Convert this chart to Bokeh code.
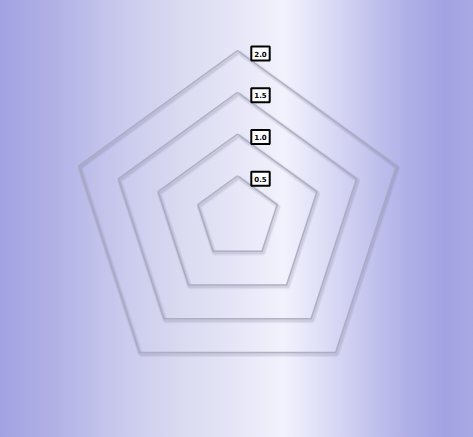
import numpy as np
from bokeh.plotting import figure
from bokeh.models import Range1d, ColumnDataSource
from bokeh.core.properties import value
from bokeh.embed import file_html
from bokeh.resources import INLINE

# data
levels = [0.5, 1.0, 1.5, 2.0]
level_labels = ["0.5", "1.0", "1.5", "2.0"]
n_axes = 5

W, H = 473, 437
px_per_unit = 83.5
cx_px, cy_px = 237.0, 217.0  # centre in figure pixels (from top-left)

p = figure(width=W, height=H, output_backend="svg", toolbar_location=None,
           x_range=Range1d(-cx_px / px_per_unit, (W - cx_px) / px_per_unit),
           y_range=Range1d(-(H - cy_px) / px_per_unit, cy_px / px_per_unit),
           min_border=0, outline_line_color=None)
p.axis.visible = False
p.grid.visible = False
p.background_fill_alpha = 0
p.border_fill_alpha = 0
p.styles = {"background": "linear-gradient(to right, #a2a2e2 0%, #b2b2e6 12%, "
            "#cacaee 26%, #dcdcf2 40%, #e8e8f8 52%, #f2f2fd 60%, #dcdcf6 69%, "
            "#c4c4ee 78%, #b0b0e8 86%, #a2a2e2 94%, #a8a8e4 100%)"}

angles = np.pi / 2 + np.arange(n_axes + 1) * 2 * np.pi / n_axes
xs = [list(r * np.cos(angles)) for r in levels]
ys = [list(r * np.sin(angles)) for r in levels]
d = 1.0 / px_per_unit
xs_sh = [[x + 1.2 * d for x in row] for row in xs]
ys_sh = [[y - 1.8 * d for y in row] for row in ys]

p.multi_line(xs_sh, ys_sh, line_color="#505070", line_alpha=0.08, line_width=5)
p.multi_line(xs_sh, ys_sh, line_color="#505070", line_alpha=0.10, line_width=2.5)
p.multi_line(xs, ys, line_color="#a8a8bc", line_alpha=0.85, line_width=1.5,
             line_join="round")

lab = ColumnDataSource(dict(x=[23 * d] * len(levels),
                            y=[r - 3 * d for r in levels],
                            t=level_labels))
p.text(x="x", y="y", text="t", source=lab, text_align="center",
       text_baseline="middle", text_font=value("DejaVu Sans"),
       text_font_size="7px", text_font_style="bold", text_color="#000000",
       background_fill_color="#ffffff", border_line_color="#000000",
       border_line_width=2, padding=(3, 4))

open("out.html", "w").write(file_html(p, INLINE))
